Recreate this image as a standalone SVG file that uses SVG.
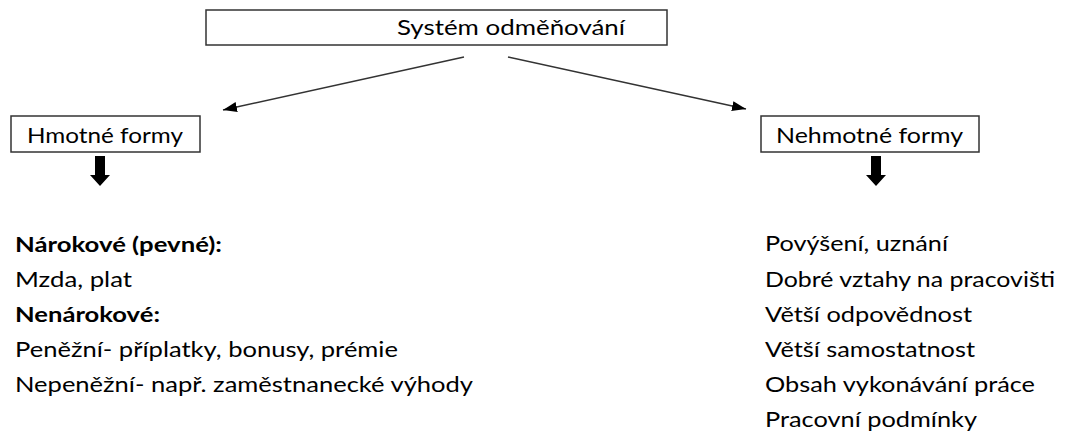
<svg xmlns="http://www.w3.org/2000/svg" width="1068" height="434" viewBox="0 0 1068 434">
  <style>
    .box { fill: #ffffff; stroke: #333333; stroke-width: 1.5; }
    .t { font-family: Lato, "Open Sans", "Noto Sans", sans-serif; font-size: 21px; fill: #000000; }
    .b { font-weight: bold; }
    .conn { stroke: #333333; stroke-width: 1.5; fill: none; }
    .blk { fill: #000000; }
  </style>
  <defs>
    <marker id="ah" viewBox="0 0 14 10" refX="14" refY="5" markerWidth="14" markerHeight="10" markerUnits="userSpaceOnUse" orient="auto">
      <path d="M0,0 L14,5 L0,10 Z" fill="#000000"/>
    </marker>
  </defs>
  <rect width="1068" height="434" fill="#ffffff"/>

  <g id="node-system">
    <rect class="box" x="206" y="10" width="461" height="35"/>
    <text class="t" x="397" y="35" textLength="228" lengthAdjust="spacingAndGlyphs">Systém odměňování</text>
  </g>

  <g id="node-hmotne">
    <rect class="box" x="11" y="116" width="189" height="36"/>
    <text class="t" x="27" y="143" textLength="156" lengthAdjust="spacingAndGlyphs">Hmotné formy</text>
  </g>

  <g id="node-nehmotne">
    <rect class="box" x="761" y="116" width="218" height="36"/>
    <text class="t" x="776" y="143" textLength="187" lengthAdjust="spacingAndGlyphs">Nehmotné formy</text>
  </g>

  <g id="connectors">
    <line class="conn" x1="464" y1="57" x2="223" y2="110" marker-end="url(#ah)"/>
    <line class="conn" x1="508" y1="57" x2="746" y2="109" marker-end="url(#ah)"/>
    <path class="blk" d="M95,156 H105 V175 H110 L100,186 L90,175 H95 Z"/>
    <path class="blk" d="M871,156 H881 V175 H886 L876,186 L866,175 H871 Z"/>
  </g>

  <g id="list-hmotne">
    <text class="t b" x="15" y="252" textLength="207" lengthAdjust="spacingAndGlyphs">Nárokové (pevné):</text>
    <text class="t" x="15" y="287" textLength="117" lengthAdjust="spacingAndGlyphs">Mzda, plat</text>
    <text class="t b" x="15" y="322" textLength="145" lengthAdjust="spacingAndGlyphs">Nenárokové:</text>
    <text class="t" x="15" y="357" textLength="383" lengthAdjust="spacingAndGlyphs">Peněžní- příplatky, bonusy, prémie</text>
    <text class="t" x="15" y="392" textLength="458" lengthAdjust="spacingAndGlyphs">Nepeněžní- např. zaměstnanecké výhody</text>
  </g>

  <g id="list-nehmotne">
    <text class="t" x="765" y="251" textLength="183" lengthAdjust="spacingAndGlyphs">Povýšení, uznání</text>
    <text class="t" x="765" y="287" textLength="290" lengthAdjust="spacingAndGlyphs">Dobré vztahy na pracovišti</text>
    <text class="t" x="765" y="322" textLength="207" lengthAdjust="spacingAndGlyphs">Větší odpovědnost</text>
    <text class="t" x="765" y="357" textLength="210" lengthAdjust="spacingAndGlyphs">Větší samostatnost</text>
    <text class="t" x="765" y="392" textLength="270" lengthAdjust="spacingAndGlyphs">Obsah vykonávání práce</text>
    <text class="t" x="765" y="427" textLength="212" lengthAdjust="spacingAndGlyphs">Pracovní podmínky</text>
  </g>
</svg>
